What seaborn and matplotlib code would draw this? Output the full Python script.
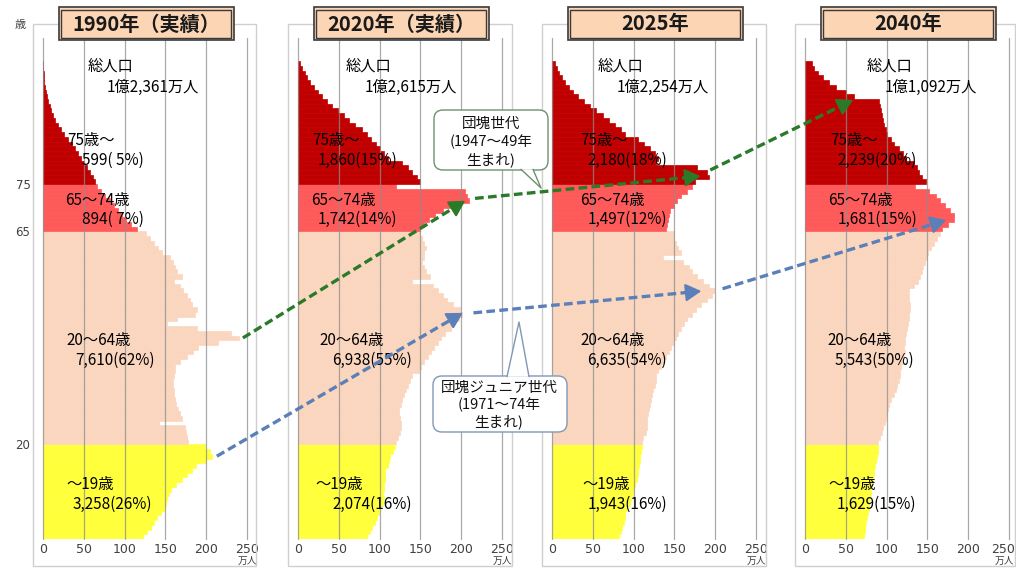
import numpy as np
import pandas as pd
import matplotlib
matplotlib.use("Agg")
import matplotlib.pyplot as plt
import seaborn as sns
from matplotlib.patches import Rectangle, FancyBboxPatch, Polygon

# population by single year of age (万人), ages 0..100
ages = list(range(0, 101))

pop_1990 = [
    123, 127, 132, 136, 140, 145, 150, 151, 152, 154,
    157, 163, 170, 176, 182, 188, 200, 207, 205, 199,
    178, 176, 175, 174, 142, 170, 168, 165, 163, 162,
    161, 160, 159, 159, 160, 162, 162, 168, 176, 184,
    190, 215, 240, 230, 189, 152, 164, 186, 189, 182,
    180, 176, 172, 168, 160, 170, 164, 162, 159, 156,
    146, 141, 136, 131, 126,
    115, 108, 102, 97, 92, 87, 82, 76, 71, 66,
    64, 61, 58, 54, 50, 46, 43, 39, 35, 31,
    26, 22, 18, 15, 12, 10, 8, 6, 4.5, 3.3,
    2.4, 1.7, 1.2, 0.8, 0.5, 0.4,
]
pop_2020 = [
    85, 88, 91, 94, 97, 99, 101, 104, 105, 104,
    105, 106, 107, 107, 107, 110, 112, 113, 116, 119,
    120, 122, 125, 126, 126, 125, 124, 124, 126, 128,
    130, 132, 135, 137, 140, 148, 151, 155, 159, 163,
    167, 171, 175, 180, 187, 190, 197, 201, 198, 190,
    183, 178, 172, 165, 140, 162, 157, 155, 152, 154,
    155, 157, 154, 152, 150,
    150, 155, 160, 168, 178, 190, 210, 207, 205, 120,
    150, 146, 140, 135, 128, 110, 106, 100, 95, 90,
    84, 78, 70, 63, 56, 49, 42, 36, 30, 24,
    19, 15, 11, 8, 5, 3,
]
pop_2025 = [
    82, 84, 86, 88, 89, 90, 92, 95, 97, 99,
    101, 102, 104, 105, 106, 107, 108, 108, 109, 110,
    110, 112, 115, 116, 117, 117, 118, 119, 120, 121,
    122, 124, 126, 127, 128, 130, 133, 136, 140, 143,
    146, 149, 152, 155, 158, 162, 166, 171, 177, 183,
    190, 196, 198, 192, 185, 178, 172, 168, 160, 136,
    158, 155, 152, 150, 150,
    140, 141, 142, 143, 145, 150, 153, 158, 165, 172,
    175, 192, 190, 178, 128, 130, 126, 120, 113, 106,
    90, 84, 77, 70, 62, 54, 46, 39, 32, 26,
    21, 16, 12, 9, 6, 4,
]
pop_2040 = [
    72, 73, 74, 75, 76, 77, 78, 79, 80, 81,
    81, 82, 83, 84, 85, 86, 87, 88, 89, 90,
    90, 92, 94, 96, 98, 99, 101, 102, 103, 105,
    109, 111, 113, 115, 116, 117, 118, 120, 121, 122,
    121, 122, 123, 124, 125, 126, 127, 128, 129, 129,
    128, 127, 127, 134, 138, 141, 143, 145, 147, 149,
    151, 154, 158, 162, 166,
    168, 175, 182, 183, 178, 172, 166, 160, 152, 135,
    148, 143, 140, 137, 133, 124, 120, 115, 109, 105,
    101, 99, 97, 95, 94, 93, 92, 91, 60, 50,
    38, 30, 22, 16, 11, 8,
]

titles = ["1990年（実績）", "2020年（実績）", "2025年", "2040年"]
total_labels = ["1億2,361万人", "1億2,615万人", "1億2,254万人", "1億1,092万人"]
old75_labels = ["599( 5%)", "1,860(15%)", "2,180(18%)", "2,239(20%)"]
old65_labels = ["894( 7%)", "1,742(14%)", "1,497(12%)", "1,681(15%)"]
work_labels = ["7,610(62%)", "6,938(55%)", "6,635(54%)", "5,543(50%)"]
young_labels = ["3,258(26%)", "2,074(16%)", "1,943(16%)", "1,629(15%)"]

group_names = ["～19歳", "20～64歳", "65～74歳", "75歳～"]
group_start = [0, 20, 65, 75]
group_colors = ["#ffff3c", "#fbd6bf", "#ff5a5a", "#c00000"]

xticks = [0, 50, 100, 150, 200, 250]

sns.set_theme(style="white")
plt.rcParams["font.family"] = ["Noto Sans CJK JP", "DejaVu Sans"]

W, H = 1016, 568
fig = plt.figure(figsize=(W / 100, H / 100), dpi=100)

ax_left = [43, 298, 552, 805]
ax_w = 204
ax_top, ax_bot = 38, 539

pops = [pop_1990, pop_2020, pop_2025, pop_2040]
axes = []
for i, pop in enumerate(pops):
    ax = fig.add_axes([ax_left[i] / W, (H - ax_bot) / H, ax_w / W, (ax_bot - ax_top) / H])
    df = pd.DataFrame({"age": ages, "pop": pop})
    df["group"] = pd.cut(df["age"], bins=group_start + [200], right=False,
                         labels=group_names)
    for g, c in zip(group_names, group_colors):
        sub = df[df["group"] == g]
        sns.barplot(data=sub, x="pop", y="age", orient="h", native_scale=True,
                    color=c, saturation=1, width=1, errorbar=None,
                    linewidth=0.5, edgecolor=c, ax=ax)
    for xv in xticks:
        ax.axvline(xv, color="#8c8c8c", lw=0.9, alpha=0.75, zorder=3, clip_on=False)
    ax.set_xlim(0, 250)
    ax.set_ylim(-0.5, 105.4)
    for s in ax.spines.values():
        s.set_visible(False)
    ax.set_xlabel("")
    ax.set_ylabel("")
    ax.set_xticks(xticks)
    ax.set_xticklabels([str(t) for t in xticks], fontfamily="DejaVu Sans",
                       fontsize=9, color="#404040")
    ax.tick_params(axis="x", length=0, pad=3)
    if i == 3:
        # last panel sits at the picture edge: keep "250" inside
        last = ax.get_xticklabels()[-1]
        last.set_horizontalalignment("right")
        last.set_x(250)
    if i == 0:
        ax.set_yticks([19.5, 64.5, 74.5])
        ax.set_yticklabels(["20", "65", "75"], fontfamily="DejaVu Sans",
                           fontsize=8.5, color="#404040")
        ax.tick_params(axis="y", length=0, pad=9)
    else:
        ax.set_yticks([])
    axes.append(ax)

# shift the last tick label a little to the right edge of the picture
axes[3].get_xticklabels()[-1].set_transform(
    axes[3].get_xticklabels()[-1].get_transform()
    + matplotlib.transforms.ScaledTranslation(6 / 100, 0, fig.dpi_scale_trans))

# overlay in pixel units for frames, titles, labels and arrows
ov = fig.add_axes([0, 0, 1, 1], zorder=5)
ov.set_xlim(0, W)
ov.set_ylim(H, 0)
ov.axis("off")


def to_px(ax, v, a):
    d = ax.transData.transform((v, a))
    return ov.transData.inverted().transform(d)


frame_right = [256, 512, 766, 1015]
for i in range(4):
    left = ax_left[i]
    ov.add_patch(Rectangle((left - 10, 24), frame_right[i] - (left - 10), 542,
                           fill=False, ec="#cfcfcf", lw=1, zorder=1))
    cx = left + ax_w / 2 + 1
    ov.add_patch(Rectangle((cx - 87.5, 7), 175, 33, fc="#fcd5b4", ec="#3a3a3a",
                           lw=1.2, zorder=6))
    ov.add_patch(Rectangle((cx - 85, 9.5), 170, 28, fill=False, ec="#3a3a3a",
                           lw=1.0, zorder=6))
    ov.text(cx, 24, titles[i], ha="center", va="center", fontsize=14.5,
            fontweight="bold", color="#1a1a1a", zorder=7)
    if i < 3:
        ov.text(left + ax_w, 561, "万人", ha="center", va="center", fontsize=7,
                color="#404040")
    else:
        ov.text(1014, 561, "万人", ha="right", va="center", fontsize=7,
                color="#404040")

ov.text(20, 25, "歳", ha="center", va="center", fontsize=8, color="#404040")

# labels inside panels: offsets from panel left edge
label_dx = [
    [45, 64, 24, 39, 22, 39, 23, 32, 23, 30],
    [48, 67, 14, 20, 13, 20, 21, 34, 17, 34],
    [46, 65, 28, 35, 28, 36, 28, 35, 30, 36],
    [62, 80, 25, 32, 23, 33, 22, 30, 23, 32],
]
label_y = [66, 87, 141, 160, 200, 219, 341, 360, 485, 504]
for i in range(4):
    texts = ["総人口", total_labels[i], "75歳～", old75_labels[i],
             "65～74歳", old65_labels[i], "20～64歳", work_labels[i],
             "～19歳", young_labels[i]]
    for t, dx, y in zip(texts, label_dx[i], label_y):
        ov.text(ax_left[i] + dx, y, t, ha="left", va="center", fontsize=11,
                color="#000000", zorder=4)

# cohort arrows (value, age) from panel to panel
green = "#2a7a2a"
blue = "#5b7fb8"
cohort_arrows = [
    (green, 0, (245, 42.0), 1, (205, 71.0)),
    (green, 1, (217, 71.5), 2, (182, 76.2)),
    (green, 2, (194, 77.5), 3, (59, 92.3)),
    (blue, 0, (213, 17.0), 1, (202, 47.3)),
    (blue, 1, (215, 47.3), 2, (183, 51.9)),
    (blue, 2, (209, 52.4), 3, (173, 66.9)),
]
for c, ia, pa, ib, pb in cohort_arrows:
    p0 = to_px(axes[ia], *pa)
    p1 = to_px(axes[ib], *pb)
    d = (p1 - p0) / np.hypot(*(p1 - p0))
    pe = p1 - d * 6
    ov.plot([p0[0], pe[0]], [p0[1], pe[1]], color=c, lw=2.4,
            dashes=(2.6, 1.3), solid_capstyle="butt", zorder=8)
    ps = p1 - d * 12
    ov.annotate("", xy=p1, xytext=ps,
                arrowprops=dict(arrowstyle="-|>,head_length=0.8,head_width=0.45",
                                fc=c, ec=c, lw=1.5, shrinkA=0, shrinkB=0),
                zorder=8)

# callouts
def callout(x, y, w, h, tip, base, ec, lines, cx, ys):
    ov.add_patch(FancyBboxPatch((x, y), w, h,
                                boxstyle="round,pad=0,rounding_size=9",
                                fc="white", ec=ec, lw=1.0, zorder=9))
    ov.add_patch(Polygon([base[0], tip, base[1]], closed=True, fc="white",
                         ec="none", zorder=10))
    ov.plot([base[0][0], tip[0], base[1][0]], [base[0][1], tip[1], base[1][1]],
            color=ec, lw=1.0, zorder=10)
    for t, yy in zip(lines, ys):
        ov.text(cx, yy, t, ha="center", va="center", fontsize=10.5,
                color="#111111", zorder=11)


callout(434, 110, 114, 60, (541, 188), [(521, 169.3), (533, 169.3)], "#6f8f6f",
        ["団塊世代", "(1947～49年", "生まれ)"], 491, [124, 142, 160])
callout(433, 376, 134, 56, (519, 322), [(507, 376.7), (529, 376.7)], "#8197b8",
        ["団塊ジュニア世代", "(1971～74年", "生まれ)"], 499, [388, 405, 422])

fig.savefig("out.png", dpi=100)
